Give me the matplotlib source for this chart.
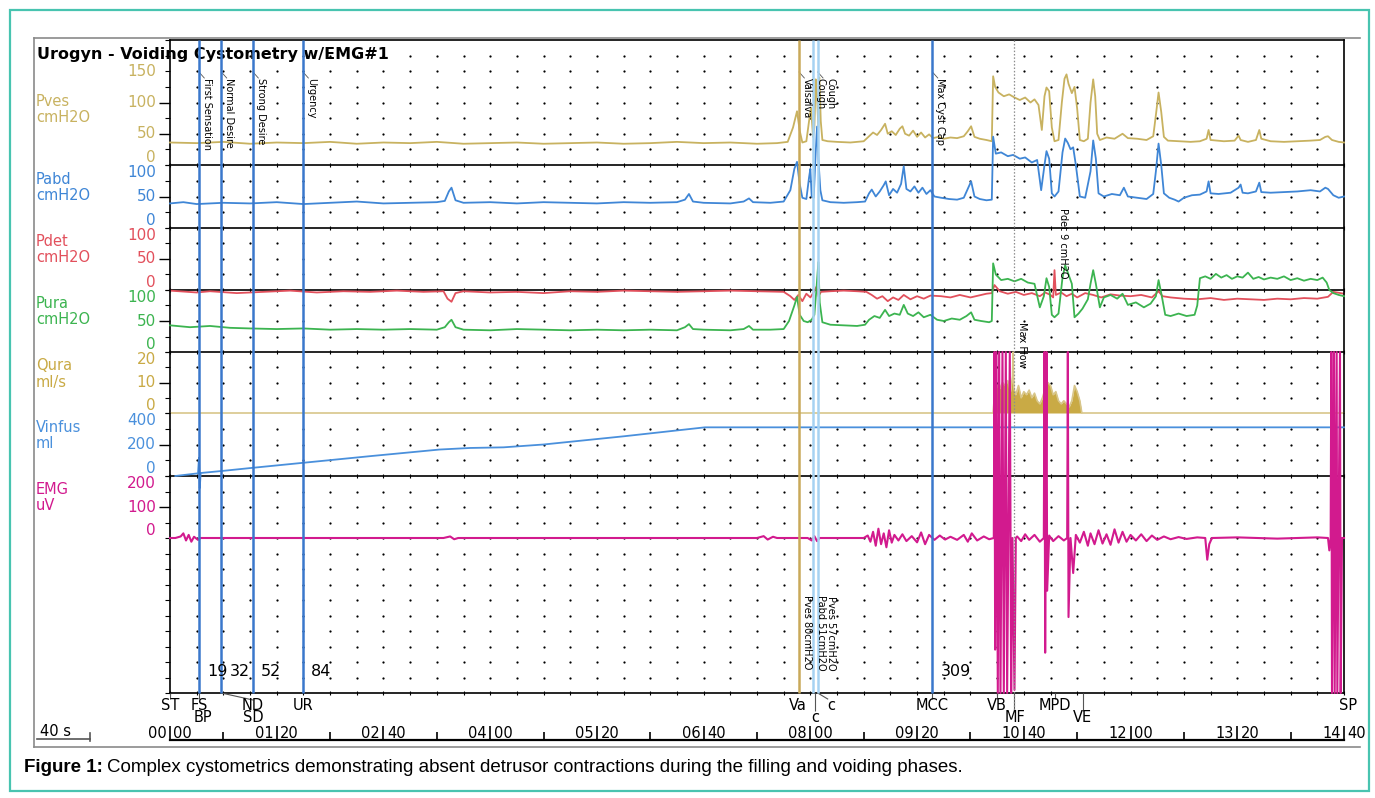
import numpy as np
import matplotlib
matplotlib.use("Agg")
import matplotlib.pyplot as plt
from matplotlib.patches import Rectangle
from matplotlib.transforms import offset_copy

# ---------------- data (time in seconds, values in channel units) ----------------
pves = np.array([
    (0, 36), (20, 35), (40, 37), (60, 34), (80, 36), (100, 35), (120, 37), (140, 34), (160, 36),
    (180, 35), (200, 37), (220, 34), (240, 35), (260, 36), (280, 34), (300, 35), (320, 36),
    (340, 34), (360, 35), (380, 37), (400, 35), (420, 36), (440, 34), (455, 35), (463, 37),
    (467, 60), (470, 86), (472, 55), (474, 36), (477, 38), (479, 70), (480.5, 92), (482, 45),
    (483, 60), (484, 137), (485, 110), (486, 60), (486.8, 140), (487.8, 70), (489, 40), (493, 38),
    (500, 37), (510, 36), (520, 38), (524, 46), (527, 52), (530, 48), (533, 56), (536, 66),
    (538, 50), (541, 54), (544, 48), (547, 58), (549, 62), (551, 50), (554, 47), (557, 55),
    (560, 45), (563, 52), (566, 44), (569, 49), (572, 43), (576, 45), (580, 42), (585, 44),
    (590, 43), (595, 46), (598, 54), (600.5, 62), (603, 45), (607, 42), (612, 40), (616, 38),
    (617, 142), (618.5, 125), (621, 116), (625, 110), (629, 113), (633, 108), (637, 104),
    (641, 108), (645, 100), (648, 105), (651, 96), (653.5, 56), (655.5, 110), (657, 124),
    (659, 118), (661, 60), (663, 38), (666, 40), (668.5, 100), (670.5, 138), (672, 145),
    (673.5, 130), (676, 115), (678, 125), (680, 90), (682, 40), (685, 38), (688, 42), (690, 100),
    (692, 137), (693.5, 110), (695, 50), (697, 40), (702, 44), (708, 42), (714, 50), (718, 43),
    (725, 42), (732, 40), (737, 46), (739, 80), (741, 116), (743, 85), (745, 45), (748, 39),
    (756, 38), (765, 37), (772, 38), (777, 42), (778.5, 56), (780, 40), (790, 38), (798, 39),
    (801, 47), (802.5, 40), (808, 37), (814, 40), (816.5, 56), (818, 42), (825, 38), (835, 37),
    (845, 38), (855, 39), (862, 40), (866, 45), (868, 46), (871, 40), (876, 37), (880, 36)])

pabd = np.array([
    (0, 39), (10, 41), (20, 38), (40, 40), (60, 39), (80, 41), (100, 38), (120, 40), (140, 42),
    (160, 39), (180, 40), (200, 41), (206, 43), (209, 58), (211, 64), (214, 44), (220, 40),
    (240, 41), (260, 39), (280, 41), (300, 40), (320, 39), (340, 41), (360, 40), (380, 41),
    (386, 45), (389, 54), (392, 42), (400, 40), (420, 39), (430, 42), (434, 47), (437, 41),
    (450, 40), (460, 42), (465, 60), (468, 94), (470, 105), (472, 70), (474, 48), (477, 46),
    (479, 80), (480, 94), (481, 50), (482.5, 48), (484, 120), (485, 161), (486, 110),
    (487.5, 60), (489, 44), (495, 41), (505, 40), (515, 41), (521, 42), (524, 55), (526, 61),
    (529, 50), (532, 58), (535, 68), (536.5, 74), (539, 52), (542, 62), (545, 56), (548, 70),
    (550, 98), (552, 62), (555, 58), (558, 66), (561, 56), (564, 64), (567, 54), (570, 60),
    (573, 50), (578, 48), (584, 46), (590, 45), (595, 48), (598, 62), (600.5, 74), (603, 50),
    (607, 46), (612, 44), (616, 45), (617, 145), (619, 118), (623, 120), (628, 114), (632, 116),
    (637, 110), (641, 112), (646, 104), (650, 108), (653, 60), (655.5, 100), (657, 122),
    (659, 110), (661, 55), (663, 50), (666, 58), (669, 120), (671, 142), (673, 135), (675, 125),
    (677, 128), (679, 100), (682, 50), (686, 48), (690, 90), (692, 139), (694, 110), (696, 55),
    (700, 50), (706, 54), (712, 52), (715, 64), (718, 50), (725, 48), (732, 46), (737, 54),
    (739, 90), (741, 134), (743, 100), (745, 55), (749, 48), (753, 45), (756, 42), (760, 48),
    (766, 52), (772, 53), (777, 58), (778.5, 74), (780, 55), (786, 54), (795, 56), (801, 64),
    (802.5, 69), (804, 56), (808, 55), (814, 58), (816.5, 72), (818, 57), (825, 56), (835, 57),
    (845, 58), (855, 60), (862, 58), (866, 64), (868, 62), (872, 52), (876, 48), (880, 50)])

pdet = np.array([
    (0, -1), (20, -4), (30, -2), (50, -5), (70, -3), (90, -1), (110, -4), (130, -2), (150, -3),
    (170, -1), (190, -3), (205, -2), (208, -14), (211, -19), (214, -5), (220, -2), (240, -4),
    (260, -3), (280, -5), (300, -2), (320, -3), (340, -1), (360, -2), (380, -3), (400, -2),
    (420, -1), (440, -2), (460, -3), (465, -10), (468, -16), (471, -8), (474, -18), (477, -6),
    (480, -12), (483, -2), (484.5, 5), (486, -10), (488, -3), (495, -2), (505, -1), (515, -2),
    (522, -3), (526, -8), (530, -14), (534, -10), (538, -18), (542, -12), (546, -16), (550, -8),
    (555, -15), (560, -10), (565, -14), (570, -9), (578, -10), (585, -12), (592, -8), (600, -12),
    (606, -9), (612, -6), (616, -5), (618, 8), (622, -2), (628, -6), (634, -3), (640, -8),
    (646, -5), (652, -10), (656, -4), (660, -8), (662, -12), (663, 32), (664, -8), (668, -4),
    (672, -10), (676, -6), (680, -12), (686, -5), (692, -8), (698, -12), (705, -7), (712, -9),
    (720, -10), (728, -8), (736, -12), (741, -2), (744, -10), (750, -12), (760, -14), (770, -15),
    (780, -13), (790, -16), (800, -14), (810, -15), (820, -16), (830, -14), (840, -15),
    (850, -13), (860, -14), (868, -11), (872, -3), (880, -6)])

pura = np.array([
    (0, 43), (15, 40), (30, 42), (45, 39), (60, 38), (80, 37), (100, 38), (120, 36), (140, 37),
    (160, 36), (180, 37), (200, 36), (206, 40), (209, 48), (211, 52), (214, 40), (220, 36),
    (240, 35), (260, 37), (280, 36), (300, 35), (320, 36), (340, 35), (360, 36), (380, 35),
    (386, 40), (389, 45), (392, 37), (400, 36), (420, 35), (430, 37), (434, 42), (437, 36),
    (450, 36), (460, 37), (464, 50), (468, 75), (470, 89), (472, 60), (475, 50), (478, 48),
    (481, 52), (483, 60), (484.5, 100), (486, 145), (487, 80), (489, 48), (495, 44), (505, 43),
    (515, 42), (521, 44), (524, 52), (528, 58), (532, 55), (536, 68), (539, 58), (543, 62),
    (547, 60), (550, 76), (553, 62), (557, 58), (561, 64), (565, 56), (570, 60), (575, 52),
    (580, 50), (586, 54), (592, 52), (597, 58), (600.5, 64), (603, 52), (608, 50), (614, 48),
    (616, 50), (617, 143), (619, 125), (623, 116), (628, 118), (633, 114), (638, 118),
    (643, 112), (648, 110), (652, 72), (655, 90), (657, 119), (659, 105), (661, 60), (663, 56),
    (666, 62), (669, 120), (671, 140), (673, 128), (676, 110), (678, 56), (681, 62), (684, 70),
    (688, 85), (690, 110), (692, 132), (694, 110), (697, 72), (700, 88), (705, 92), (710, 86),
    (714, 94), (718, 76), (724, 80), (730, 72), (735, 78), (739, 90), (741, 116), (743, 95),
    (746, 60), (750, 58), (756, 62), (762, 58), (768, 60), (770, 75), (772, 119), (776, 122),
    (780, 118), (784, 126), (788, 120), (792, 124), (796, 118), (800, 122), (804, 120),
    (808, 128), (812, 118), (816, 121), (820, 117), (825, 120), (830, 118), (835, 122),
    (840, 116), (845, 119), (850, 115), (855, 118), (860, 116), (864, 120), (867, 112),
    (869, 100), (872, 95), (876, 92), (880, 90)])

qura = np.array([
    (0, 0), (617, 0), (618, 6), (620, 9), (622, 8), (624, 10), (626, 9), (628, 10.6), (630, 7),
    (631.5, 12), (632, 20), (632.5, 8), (634, 6), (636, 9), (638, 5), (640, 7), (642, 6),
    (644, 7.5), (646, 5), (648, 6.5), (650, 4), (652, 3), (654, 5), (656, 8), (658, 10),
    (660, 9), (662, 6), (664, 7), (666, 4), (668, 3), (670, 4), (672, 3), (674, 2), (676, 4),
    (678, 9), (680, 7), (682, 4), (683.5, 0), (880, 0)])

vinfus = np.array([
    (4, 0), (21, 17), (21.7, 116), (22.3, -77), (23, 19), (39, 32), (62, 52), (100, 84),
    (150, 126), (202, 168), (225, 178), (250, 182), (280, 200), (340, 252), (401, 309),
    (880, 309)])

emg = np.array([
    (0, 0), (4, 0), (8, 5), (10, 15), (12, -8), (14, 10), (16, -12), (18, 4), (21, -6), (23, 0),
    (205, 0), (210, 5), (213, -4), (216, 0), (440, 0), (445, 6), (448, -5), (452, 4), (455, 0),
    (478, 0), (481, -8), (483, 6), (485, -10), (487, 0), (520, 0), (523, 8), (525, -12),
    (527, 20), (529, -25), (531, 30), (533, -20), (535, 15), (537, -30), (539, 25), (541, -15),
    (543, 10), (546, -8), (549, 12), (552, -10), (556, 6), (560, -14), (563, 18), (566, -20),
    (569, 10), (573, -6), (577, 8), (581, -5), (585, 4), (590, -6), (595, 10), (598, -12),
    (601, 15), (605, -8), (610, 5), (614, -4), (617.5, 0), (618, 600), (618.5, -360),
    (619.5, 600), (620.5, -500), (621.5, 600), (622.5, -500), (624, 600), (625, -500),
    (626.5, 600), (627.5, -500), (629.5, 600), (630.5, -500), (631.5, 0), (633, -490),
    (634, 0), (635, 5), (638, -10), (641, 12), (644, -6), (648, 10), (652, -12), (655, 0),
    (655.5, 600), (656, -370), (657, 600), (657.5, -170), (659, 8), (662, -10), (666, 6),
    (670, -8), (672.5, 0), (673, 600), (673.5, -255), (675, 0), (677, -113), (679, 10),
    (682, -15), (685, 20), (688, -25), (690, 15), (693, -20), (696, 25), (699, -18), (702, 12),
    (705, -22), (708, 28), (711, -15), (714, 20), (717, -12), (720, 10), (724, -8), (728, 12),
    (732, -10), (736, 8), (740, -6), (745, 5), (750, -4), (756, 3), (762, -3), (770, 2),
    (776, 0), (777.5, -70), (779, -20), (781, 0), (800, 2), (830, -2), (860, 2), (868, 0),
    (869, -40), (870, 0), (870.5, 600), (871, -500), (872.5, 600), (873, -500), (874.5, 600),
    (875, -500), (877, 600), (877.5, -500), (878.5, 0), (880, 0)])

# events (s)
event_names = ["FS", "ND", "SD", "UR", "Va", "c1", "c2", "MCC"]
event_times = [21.7, 38.5, 62.2, 99.7, 471.5, 482.0, 485.5, 571.5]
event_colors = ["#3a78cc", "#3a78cc", "#3a78cc", "#3a78cc", "#c9a95a", "#a6d2f2", "#a6d2f2", "#3a78cc"]
mf_time = 632.5

top_notes = ["First Sensation", "Normal Desire", "Strong Desire", "Urgency",
             "Valsalva", "", "Cough\nCough", "Max Cyst Cap"]
volume_notes = ["19", "32", "52", "84", "309"]
volume_times = [21.7, 38.5, 62.2, 99.7, 571.5]

code_labels = ["ST", "FS", "BP", "ND", "SD", "UR", "Va", "c", "c", "MCC", "VB", "MF", "MPD", "VE", "SP"]
code_times = [0, 21.7, 24.5, 62.2, 62.2, 99.7, 470.7, 483.5, 496, 571.5, 620, 633.5, 663, 684, 883]
code_rows = [1, 1, 2, 1, 2, 1, 1, 2, 1, 1, 1, 2, 1, 2, 1]
bottom_tick_times = [0, 21.7, 483.5, 571.5, 620, 632.5, 663, 684, 880]
bottom_tick_rows = [1, 1, 2, 1, 1, 2, 1, 2, 1]

T_MAX = 880
time_ticks = np.arange(0, T_MAX + 1, 80)

# ---------------- figure ----------------
W, H = 1375, 798
X0, X1 = 170, 1344
plt.rcParams['font.family'] = ['DejaVu Sans']
fig = plt.figure(figsize=(W / 100, H / 100), dpi=100, facecolor="white")


def box(x0, y0, x1, y1):
    return [x0 / W, 1 - y1 / H, (x1 - x0) / W, (y1 - y0) / H]


bg = fig.add_axes([0, 0, 1, 1], zorder=0)
bg.set_xlim(0, W)
bg.set_ylim(H, 0)
bg.axis("off")
bg.add_patch(Rectangle((10, 10), 1359, 781, fill=False, ec="#48c4b0", lw=1.6))
gray = "#8a8a8a"
bg.plot([34, 34], [38, 747], color=gray, lw=1.2)
bg.plot([34, 1360], [38, 38], color=gray, lw=1.2)
bg.plot([34, 1360], [747, 747], color=gray, lw=1.2)

# channel: name, unit, color, data, pixel top, pixel bottom, ylim, step, labels, long ticks, name y
channels = [
    ("Pves", "cmH2O", "#c8b260", pves, 40, 165, (0, 200), 25, [0, 50, 100, 150], [50, 100], 101),
    ("Pabd", "cmH2O", "#3f86d6", pabd, 165, 228, (0, 100), 25, [0, 50, 100], [50], 179),
    ("Pdet", "cmH2O", "#e2505c", pdet, 228, 290, (0, 100), 25, [0, 50, 100], [50], 242),
    ("Pura", "cmH2O", "#3cb450", pura, 290, 352, (0, 100), 25, [0, 50, 100], [50], 303),
    ("Qura", "ml/s", "#c9aa45", qura, 352, 413, (0, 20), 5, [0, 10, 20], [10], 366),
    ("Vinfus", "ml", "#4a90dc", vinfus, 413, 476, (0, 400), 100, [0, 200, 400], [200], 428),
    ("EMG", "uV", "#d21a8e", emg, 476, 693, (-500, 200), 50, [0, 100, 200], [100], 490),
]

dot_x = np.arange(20, T_MAX, 20)
for name, unit, color, pts, y0, y1, ylim, step, labels, longs, name_y in channels:
    ax = fig.add_axes(box(X0, y0, X1, y1), zorder=2)
    ax.set_xlim(0, T_MAX)
    ax.set_ylim(*ylim)
    ax.patch.set_alpha(0)
    ax.spines["top"].set_visible(name == "Pves")
    ax.spines["bottom"].set_visible(name != "Qura")
    for s in ax.spines.values():
        s.set_color("black")
        s.set_linewidth(1.2)
    ax.set_xticks(np.arange(0, T_MAX + 1, 20))
    ax.tick_params(axis="x", direction="inout", length=3, width=0.8, labelbottom=False,
                   bottom=name != "Qura")
    minors = [v for v in np.arange(ylim[0], ylim[1] + step, step) if v not in longs]
    ax.set_yticks(longs)
    ax.set_yticks(minors, minor=True)
    ax.tick_params(axis="y", which="major", direction="out", length=8, width=1.0, labelleft=False)
    ax.tick_params(axis="y", which="minor", direction="out", length=3.5, width=0.8)

    dot_y = [v for v in np.arange(ylim[0] + step, ylim[1], step)]
    gx, gy = np.meshgrid(dot_x, dot_y)
    ax.scatter(gx.ravel(), gy.ravel(), s=2.6, c="black", lw=0, zorder=1)

    t, v = pts[:, 0], pts[:, 1]
    if name == "Qura":
        ax.fill_between(t, v, 0, color=color, lw=0, zorder=2)
        ax.plot(t, v, color="#d8c68a", lw=1.2, clip_on=False, zorder=3)
    elif name == "EMG":
        ax.plot(t, v, color=color, lw=1.5, clip_on=False, zorder=3)
    else:
        ax.plot(t, v, color=color, lw=1.3, clip_on=False, zorder=3)

    ytr = ax.get_yaxis_transform()
    for val in labels:
        va = "center"
        if val == ylim[1]:
            va = "top"
        elif val == 0:
            va = "bottom"
        ax.text(-0.012, val, f"{val}", ha="right", va=va, color=color, fontsize=11,
                transform=ytr)
    bg.text(36, name_y, name, color=color, fontsize=10.5, va="center")
    bg.text(36, name_y + 16, unit, color=color, fontsize=10.5, va="center")

# ---------------- overlay: events and time axis ----------------
ov = fig.add_axes(box(X0, 40, X1, 740), zorder=4)
ov.set_xlim(0, T_MAX)
ov.set_ylim(740, 40)
ov.patch.set_alpha(0)
for s in ["top", "left", "right"]:
    ov.spines[s].set_visible(False)
ov.spines["bottom"].set_linewidth(1.6)
ov.set_yticks([])
ov.set_xticks(time_ticks)
ov.set_xticks(np.arange(40, T_MAX, 80), minor=True)
ov.tick_params(axis="x", which="major", direction="in", length=10, width=1.2, labelbottom=False)
ov.tick_params(axis="x", which="minor", direction="in", length=5.5, width=1.2)

for t, c in zip(event_times, event_colors):
    ov.vlines(t, 40, 693, colors=c, lw=1.8, zorder=3)
ov.vlines(mf_time, 40, 712, colors="#8c8c8c", lw=0.9, linestyles=(0, (1.2, 1.5)), zorder=3)

for t, r in zip(bottom_tick_times, bottom_tick_rows):
    ov.vlines(t, 693, 699 if r == 1 else 711, colors="#555555", lw=0.8)
ov.plot([event_times[1], event_times[2]], [693, 700], color="#555555", lw=0.8)
ov.plot([event_times[6], 493], [693, 699], color="#555555", lw=0.8)

tr8 = offset_copy(ov.transData, fig=fig, x=8, y=0, units="dots")
for txt, t in zip(top_notes, event_times):
    if not txt:
        continue
    ov.text(t, 78, txt, rotation=270, ha="center", va="top", fontsize=7, transform=tr8,
            linespacing=1.0)
    ov.plot([t, t + 4], [72, 78], color="#555555", lw=0.6)
ov.text(mf_time, 322, "Max Flow", rotation=270, ha="center", va="top", fontsize=7, transform=tr8)
ov.text(663, 208, "Pdet 9 cmH2O", rotation=270, ha="center", va="top", fontsize=7, transform=tr8)
ov.text(event_times[4], 595, "Pves 80cmH2O", rotation=270, ha="center", va="top", fontsize=7,
        transform=tr8)
ov.text(event_times[6], 595, "Pves 57cmH2O\nPabd 51cmH2O", rotation=270, ha="center", va="top",
        fontsize=7, transform=tr8, linespacing=1.0)

for txt, t in zip(volume_notes, volume_times):
    ov.text(t, 671, txt, ha="left", va="center", fontsize=11.5, transform=tr8)

for txt, t, r in zip(code_labels, code_times, code_rows):
    ov.text(t, 705 if r == 1 else 718, txt, ha="center", va="center", fontsize=10.5, clip_on=False)

for t in time_ticks:
    mm, ss = divmod(int(t), 60)
    ov.annotate(f"{mm:02d}", (t, 733), xytext=(-2.5, 0), textcoords="offset points",
                ha="right", va="center", fontsize=10.5, annotation_clip=False)
    ov.annotate(f"{ss:02d}", (t, 733), xytext=(2.5, 0), textcoords="offset points",
                ha="left", va="center", fontsize=10.5, annotation_clip=False)

# 40 s scale bar at the left
ov.plot([-100, -60], [739, 739], color="#555555", lw=1.2, clip_on=False)
ov.plot([-60, -60], [733, 741], color="#555555", lw=1.2, clip_on=False)
bg.text(40, 731, "40 s", fontsize=10.5, va="center")

bg.text(37, 54, "Urogyn - Voiding Cystometry w/EMG#1", fontweight="bold", fontsize=11.5,
        va="center", zorder=10)

# caption
cap_font = ["Liberation Sans Narrow", "Liberation Sans"]
c1 = bg.text(24, 767, "Figure 1:", fontweight="bold", fontsize=13.5, va="center", family=cap_font)
fig.canvas.draw()
bb = c1.get_window_extent()
bg.text(24 + bb.width + 4, 767, "Complex cystometrics demonstrating absent detrusor contractions "
        "during the filling and voiding phases.", fontsize=13.5, va="center", family=cap_font)

fig.savefig("out.png", dpi=100, facecolor="white")
